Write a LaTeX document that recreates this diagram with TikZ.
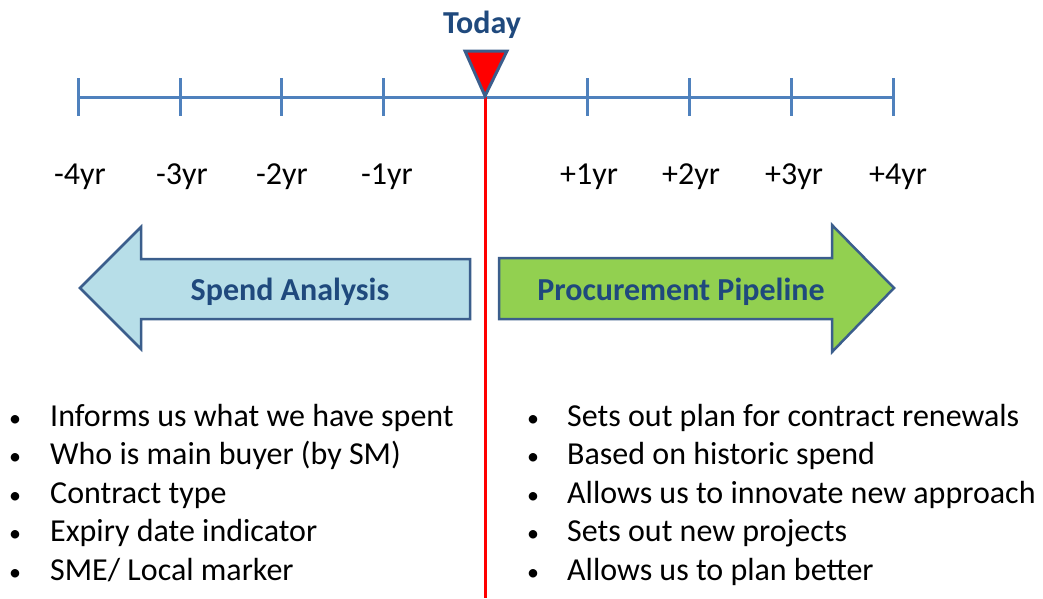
\documentclass[tikz,border=0pt]{standalone}
\usepackage{fontspec}
\setmainfont{Carlito}
\definecolor{tl}{HTML}{4F81BD}
\definecolor{bd}{HTML}{3B5E8C}
\definecolor{tx}{HTML}{1F497D}
\definecolor{lb}{HTML}{B7DEE8}
\definecolor{gr}{HTML}{92D050}
\begin{document}
\begin{tikzpicture}[x=1pt,y=-1pt,
  big/.style={font=\fontsize{32}{38}\selectfont, inner sep=0pt},
  yrlabel/.style={big, anchor=base},
  bul/.style={font=\fontsize{24}{28}\selectfont, inner sep=0pt, anchor=base},
  item/.style={big, anchor=base west},
  head/.style={big, font=\fontsize{32}{38}\selectfont\bfseries, text=tx, anchor=base},
  axis/.style={tl, line width=3pt},
  arrowshape/.style={bd, line width=2.5pt, line join=miter}
]
\useasboundingbox (0,0) rectangle (1043,598);

% timeline
\coordinate (a0) at (78,97);
\coordinate (a8) at (893,97);
\draw[axis] (a0) -- (a8);
\foreach \i/\x in {0/78,1/180,2/281,3/383,5/587,6/689,7/791,8/893}{
  \coordinate (tt\i) at (\x,78);
  \coordinate (tb\i) at (\x,116);
  \draw[axis] (tt\i) -- (tb\i);
}

% year labels
\foreach \n/\x/\t in {m4/80/-4yr,m3/182/-3yr,m2/282/-2yr,m1/387/-1yr,p1/589/+1yr,p2/691/+2yr,p3/794/+3yr,p4/898/+4yr}{
  \node[yrlabel] (y\n) at (\x,184) {\t};
}

% today line
\coordinate (rtop) at (485,97);
\coordinate (rbot) at (485,598);
\draw[red, line width=3pt] (rtop) -- (rbot);
\draw[bd, fill=red, line width=3pt, line join=miter] (465,51) -- (507,51) -- (485,96) -- cycle;
\node[head] (today) at (482,33) {Today};

% arrows
\draw[arrowshape, fill=lb] (80,288) -- (141,227) -- (141,259) -- (470,259) -- (470,319) -- (141,319) -- (141,349) -- cycle;
\node[head] (spend) at (290,300) {Spend Analysis};
\draw[arrowshape, fill=gr] (499,258) -- (832,258) -- (832,225) -- (894,288) -- (832,352) -- (832,319) -- (499,319) -- cycle;
\node[head] (proc) at (681,300) {Procurement Pipeline};

% left list
\foreach \k/\y/\t in {1/426/{Informs us what we have spent},2/464/{Who is main buyer (by SM)},3/503/{Contract type},4/541/{Expiry date indicator},5/580/{SME/ Local marker}}{
  \node[bul] (lb\k) at (15,\y) {•};
  \node[item] (li\k) at (50,\y) {\t};
}
% right list
\foreach \k/\y/\t in {1/426/{Sets out plan for contract renewals},2/464/{Based on historic spend},3/503/{Allows us to innovate new approach},4/541/{Sets out new projects},5/580/{Allows us to plan better}}{
  \node[bul] (rb\k) at (533,\y) {•};
  \node[item] (ri\k) at (567,\y) {\t};
}
\end{tikzpicture}
\end{document}
